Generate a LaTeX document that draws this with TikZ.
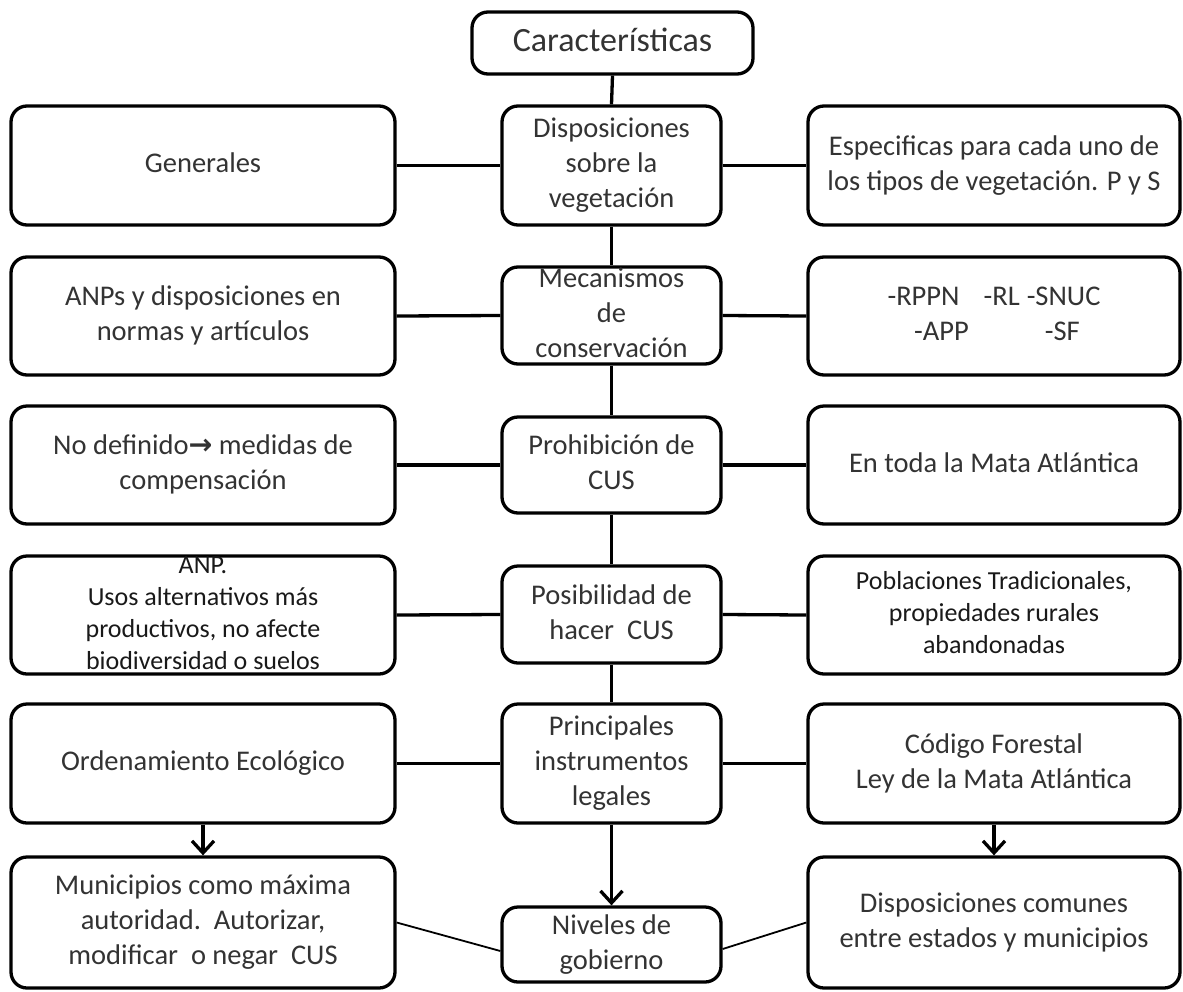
\documentclass[tikz,border=0pt]{standalone}
\usepackage{fontspec}
\setmainfont{Carlito}
\newfontfamily\arrowfont{DejaVu Sans}
\usetikzlibrary{arrows.meta}
\definecolor{txt}{HTML}{333333}
\newcommand\bt[1]{\hbox to 0pt{\hss\vbox to 0pt{\vss\halign{\hfil\rule[-0.36em]{0pt}{1.22em}##\hfil\cr#1\crcr}\vss}\hss}}
\newcommand\mainf{\fontsize{28.5pt}{34.8pt}\selectfont}
\newcommand\smallf{\fontsize{26pt}{32pt}\selectfont}
\newcommand\titlef{\fontsize{34pt}{41pt}\selectfont}
\begin{document}
\begin{tikzpicture}[x=1pt,y=-1pt,
  box/.style={draw=black, line width=3.3pt, rounded corners=16pt, inner sep=0pt, text=txt, font=\mainf, fill=white},
  lbox/.style={box, minimum width=384pt},
  cbox/.style={box, minimum width=219pt},
  rbox/.style={box, minimum width=372pt},
  conn/.style={draw=black, line width=3.3pt},
  arr/.style={draw=black, line width=3.3pt, -{Straight Barb[length=12pt,width=22pt]}},
  thinline/.style={draw=black, line width=1.8pt}]
\useasboundingbox (0,0) rectangle (1183,991);

% top
\node[box, font=\titlef, minimum width=281pt, minimum height=62pt] (top) at (612.5,43) {\bt{Características}};

% row 1
\node[lbox, minimum height=119pt] (l1) at (203,165.5) {\bt{Generales}};
\node[cbox, minimum height=119pt] (c1) at (611.5,165.5) {\bt{Disposiciones\cr sobre la\cr vegetación}};
\node[rbox, minimum height=119pt] (r1) at (994,165.5) {\bt{Especificas para cada uno de\cr los tipos de vegetación. P y S}};

% row 2
\node[lbox, minimum height=118pt] (l2) at (203,316) {\bt{ANPs y disposiciones en\cr normas y artículos}};
\node[cbox, minimum height=97pt, fill=none] (c2) at (611.5,315.5) {\bt{Mecanismos\cr de\cr conservación}};
\node[rbox, minimum height=118pt] (r2) at (994,316) {\bt{-RPPN\hspace{24pt}-RL\hspace{7pt}-SNUC\cr \hspace{6pt}-APP\hspace{76pt}-SF}};

% row 3
\node[lbox, minimum height=118pt] (l3) at (203,465) {\bt{No definido{\arrowfont\bfseries →} medidas de\cr compensación}};
\node[cbox, minimum height=96pt] (c3) at (611.5,465) {\bt{Prohibición de\cr CUS}};
\node[rbox, minimum height=118pt] (r3) at (994,465) {\bt{En toda la Mata Atlántica}};

% row 4
\node[lbox, minimum height=118pt, font=\smallf, text=black!90, fill=none] (l4) at (203,615) {\bt{ANP.\cr Usos alternativos más\cr productivos, no afecte\cr biodiversidad o suelos}};
\node[cbox, minimum height=97pt] (c4) at (611.5,614.5) {\bt{Posibilidad de\cr hacer\ \ CUS}};
\node[rbox, minimum height=118pt, font=\smallf, text=black!90] (r4) at (994,615) {\bt{Poblaciones Tradicionales,\cr propiedades rurales\cr abandonadas}};

% row 5
\node[lbox, minimum height=119pt] (l5) at (203,763.5) {\bt{Ordenamiento Ecológico}};
\node[cbox, minimum height=119pt] (c5) at (611.5,763.5) {\bt{Principales\cr instrumentos\cr legales}};
\node[rbox, minimum height=119pt] (r5) at (994,763.5) {\bt{Código Forestal\cr Ley de la Mata Atlántica}};

% row 6
\node[lbox, minimum height=131pt] (l6) at (203,922.5) {\bt{Municipios como máxima\cr autoridad.\ \ Autorizar,\cr modificar\ \ o negar\ \ CUS}};
\node[cbox, minimum height=75pt] (c6) at (611.5,944.5) {\bt{Niveles de\cr gobierno}};
\node[rbox, minimum height=131pt] (r6) at (994,922.5) {\bt{Disposiciones comunes\cr entre estados y municipios}};

% central spine
\draw[conn] (top.south) -- (c1.north);
\draw[conn] (c1.south) -- (c2.north);
\draw[conn] (c2.south) -- (c3.north);
\draw[conn] (c3.south) -- (c4.north);
\draw[conn] (c4.south) -- (c5.north);
\draw[arr] (c5.south) -- (c6.north);

% horizontal connectors
\foreach \i in {1,...,5}{
  \draw[conn] (l\i.east) -- (c\i.west);
  \draw[conn] (c\i.east) -- (r\i.west);
}

% side arrows
\draw[arr] (l5.south) -- (l6.north);
\draw[arr] (r5.south) -- (r6.north);

% thin diagonal lines
\draw[thinline] (l6.east) -- ([yshift=-6.5pt]c6.west);
\draw[thinline] ([yshift=-4.5pt]c6.east) -- (r6.west);
\end{tikzpicture}
\end{document}
